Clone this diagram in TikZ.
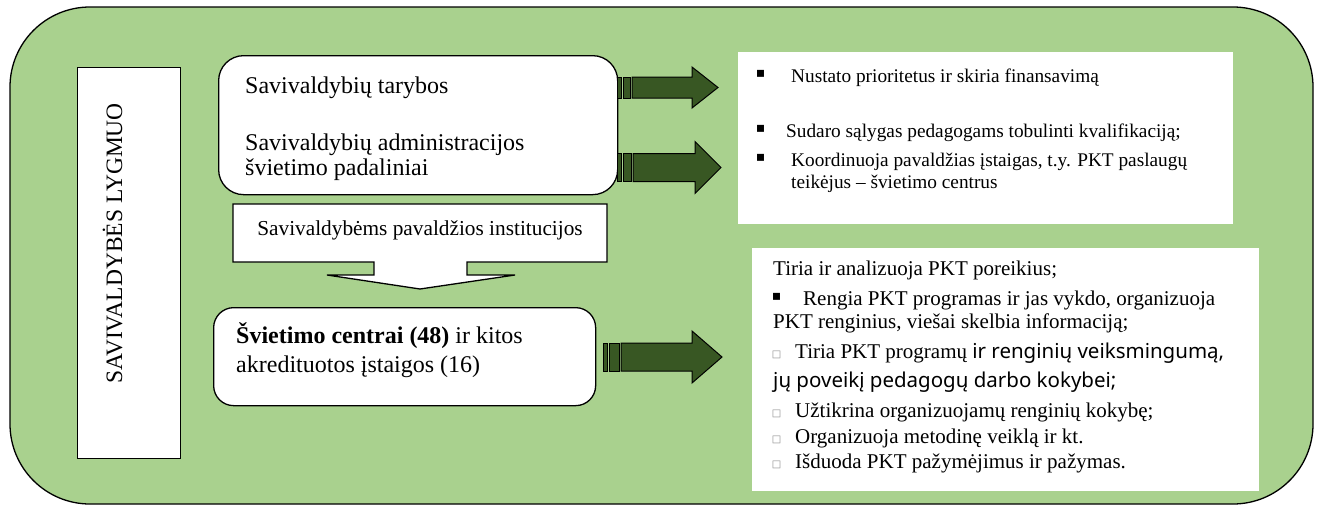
\documentclass[tikz,border=0pt]{standalone}
\usepackage{fontspec}
\setmainfont{Liberation Serif}
\newfontfamily\symbolfont{DejaVu Sans}
\newfontfamily\uifont{Noto Sans}
\definecolor{panelgreen}{HTML}{A9D18E}
\definecolor{arrowgreen}{HTML}{385723}
\definecolor{boxgray}{HTML}{8C8C8C}

% striped block arrow: #1 centre y, #2 body half height, #3 head half height,
% #4 first stripe x, #5 body start x, #6 head base x, #7 tip x
\newcommand\stripedarrow[7]{%
  \filldraw[darrow] (#4,{#1-#2}) rectangle ({#4+4},{#1+#2});
  \filldraw[darrow] ({#4+6},{#1-#2}) rectangle ({#5-2},{#1+#2});
  \filldraw[darrow] (#5,{#1-#2}) -- (#6,{#1-#2}) -- (#6,{#1-#3}) -- (#7,#1)
     -- (#6,{#1+#3}) -- (#6,{#1+#2}) -- (#5,{#1+#2}) -- cycle;
}

\begin{document}
\begin{tikzpicture}[x=1pt,y=-1pt,
  panel/.style={draw=black,line width=1.3pt,fill=panelgreen,rounded corners=80pt},
  roundbox/.style={draw=black,line width=1.3pt,fill=white,rounded corners=#1,
    inner sep=0pt,anchor=north west},
  plainbox/.style={fill=white,inner sep=0pt,anchor=north west},
  darrow/.style={draw=black,line width=1pt,fill=arrowgreen,line join=miter},
  bigtext/.style={font=\fontsize{24}{28}\selectfont,inner sep=0pt,anchor=base west},
  midtext/.style={font=\fontsize{21}{25}\selectfont,inner sep=0pt,anchor=base west},
  smalltext/.style={font=\fontsize{19.3}{22}\selectfont,inner sep=0pt,anchor=base west},
  bullet/.style={font=\symbolfont\fontsize{14}{14}\selectfont,inner sep=0pt,anchor=center},
  tofu/.style={font=\symbolfont\fontsize{10}{10}\selectfont,text=boxgray,inner sep=0pt,anchor=center},
]
\useasboundingbox (0,0) rectangle (1319,506);

% green background panel
\draw[panel] (10,7) rectangle (1313,504);

% vertical level label
\node[draw=black,line width=1.3pt,fill=white,inner sep=0pt,anchor=north west,
      minimum width=103pt,minimum height=391pt] (level) at (77,67) {};
\node[font=\fontsize{23.5}{28}\selectfont,rotate=90,anchor=base,inner sep=0pt]
      (levelname) at (122,243.5) {SAVIVALDYBĖS LYGMUO};

% municipal councils and administrations
\node[roundbox=25pt,minimum width=399pt,minimum height=139pt] (councils) at (218,55) {};
\node[bigtext] (councilsA) at (245,93) {Savivaldybių tarybos};
\node[bigtext] (councilsB) at (245,150) {Savivaldybių administracijos};
\node[bigtext] (councilsC) at (245,175) {švietimo padaliniai};

% subordinate institutions (down arrow callout)
\filldraw[draw=black,line width=1.3pt,fill=white,line join=miter]
  (233,204) -- (607,204) -- (607,262) -- (467,262) -- (467,275) -- (515,275)
  -- (420,289) -- (327,275) -- (374,275) -- (374,262) -- (233,262) -- cycle;
\node[font=\fontsize{21.3}{25}\selectfont,anchor=base,inner sep=0pt]
  (subinst) at (420,235) {Savivaldybėms pavaldžios institucijos};
\coordinate (subtip) at (420,289);

% education centres
\node[roundbox=20pt,minimum width=382pt,minimum height=98pt] (centres) at (213,307) {};
\node[bigtext] (centresA) at (236,343) {\textbf{Švietimo centrai (48)} ir kitos};
\node[bigtext] (centresB) at (236,372) {akredituotos įstaigos (16)};

% functions of the municipality
\node[plainbox,minimum width=495pt,minimum height=172pt] (duties) at (738,52) {};
\node[bullet] (dutyb1) at (760.5,74) {▪};
\node[smalltext] (duty1) at (791,82) {Nustato prioritetus ir skiria finansavimą};
\node[bullet] (dutyb2) at (760.5,129) {▪};
\node[smalltext] (duty2) at (786,137) {Sudaro sąlygas pedagogams tobulinti kvalifikaciją;};
\node[bullet] (dutyb3) at (760.5,158) {▪};
\node[smalltext] (duty3a) at (791,166) {Koordinuoja pavaldžias įstaigas, t.y. PKT paslaugų};
\node[smalltext] (duty3b) at (791,188) {teikėjus – švietimo centrus};

% functions of the education centres
\node[plainbox,minimum width=507pt,minimum height=243pt] (tasks) at (752,248) {};
\node[midtext] (task1) at (773,275) {Tiria ir analizuoja PKT poreikius;};
\node[bullet] (taskb2) at (776.5,297) {▪};
\node[midtext] (task2a) at (803,305) {Rengia PKT programas ir jas vykdo, organizuoja};
\node[midtext] (task2b) at (773,328) {PKT renginius, viešai skelbia informaciją;};
\node[tofu] (taskb3) at (776.5,355) {□};
\node[midtext] (task3a) at (795,358) {Tiria PKT programų {\uifont\fontsize{20.5}{24}\selectfont ir renginių veiksmingumą,}};
\node[midtext,font=\uifont\fontsize{20.5}{24}\selectfont] (task3b) at (773,387) {jų poveikį pedagogų darbo kokybei;};
\node[tofu] (taskb4) at (776.5,414) {□};
\node[midtext] (task4) at (795,417) {Užtikrina organizuojamų renginių kokybę;};
\node[tofu] (taskb5) at (776.5,440) {□};
\node[midtext] (task5) at (795,443) {Organizuoja metodinę veiklą ir kt.};
\node[tofu] (taskb6) at (776.5,465) {□};
\node[midtext] (task6) at (795,468) {Išduoda PKT pažymėjimus ir pažymas.};

% block arrows from the bodies to their functions
\stripedarrow{87.5}{10.5}{20.5}{617}{632}{692}{718}
\stripedarrow{167.5}{14}{26}{617}{633}{695}{721}
\stripedarrow{357}{14}{26}{603}{621}{692}{722}
\end{tikzpicture}
\end{document}
